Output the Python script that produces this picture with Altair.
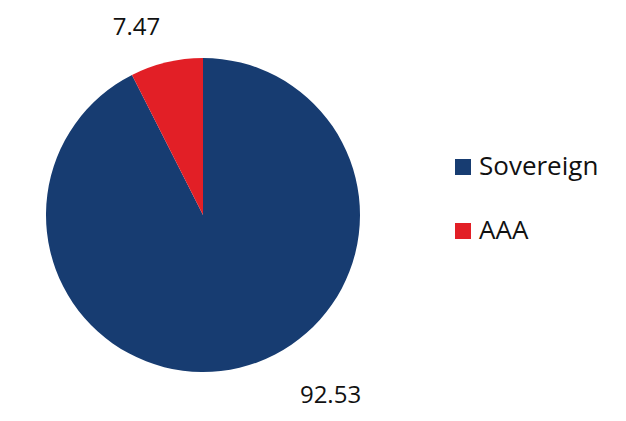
import altair as alt
import pandas as pd

categories = ["Sovereign", "AAA"]
values = [92.53, 7.47]
labels = ["92.53", "7.47"]
colors = ["#173c71", "#e21f26"]

df = pd.DataFrame({"category": categories, "value": values, "label": labels,
                   "order": [0, 1]})

CX, CY = 195, 207

pie = alt.Chart(df).mark_arc(radius=157).encode(
    theta=alt.Theta("value:Q", stack=True, scale=alt.Scale(domain=[0, 100])),
    order=alt.Order("order:Q"),
    x=alt.value(CX),
    y=alt.value(CY),
    color=alt.Color(
        "category:N",
        scale=alt.Scale(domain=categories, range=colors),
        sort=categories,
        legend=alt.Legend(
            title=None,
            orient="none",
            legendX=442,
            legendY=146,
            symbolType="square",
            symbolSize=256,
            symbolStrokeWidth=0,
            labelFontSize=26,
            labelFont="Open Sans",
            labelColor="#111111",
            labelOffset=3,
            rowPadding=38,
            padding=0,
        ),
    ),
)

txt = alt.Chart(df).transform_window(
    cum="sum(value)", sort=[alt.SortField("order")]
).transform_calculate(mid="datum.cum - datum.value / 2")

txt_sov = txt.transform_filter(alt.datum.category == "Sovereign").mark_text(
    radius=200, fontSize=24, font="Open Sans", color="#111111", dx=81, dy=-14
).encode(
    theta=alt.Theta("mid:Q", stack=None, scale=alt.Scale(domain=[0, 100])),
    x=alt.value(CX), y=alt.value(CY), text="label:N",
)

txt_aaa = txt.transform_filter(alt.datum.category == "AAA").mark_text(
    radius=200, fontSize=24, font="Open Sans", color="#111111", dx=-20, dy=8
).encode(
    theta=alt.Theta("mid:Q", stack=None, scale=alt.Scale(domain=[0, 100])),
    x=alt.value(CX), y=alt.value(CY), text="label:N",
)

chart = alt.layer(pie, txt_sov, txt_aaa).properties(
    width=605, height=406,
    padding=0,
    background="white",
    autosize=alt.AutoSizeParams(type="none"),
).configure_view(stroke=None, strokeWidth=0)

chart.save("out.html", embed_options={"renderer": "svg", "actions": False})
